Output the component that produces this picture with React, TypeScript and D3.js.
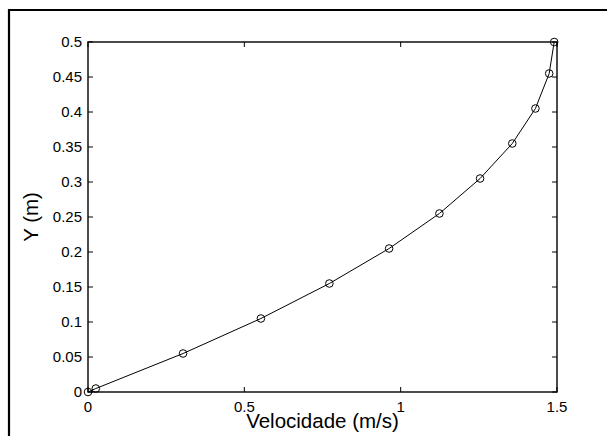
import React from "react";
import * as d3 from "d3";

const velocity = [0, 0.025, 0.304, 0.553, 0.772, 0.963, 1.124, 1.254, 1.357, 1.431, 1.475, 1.491];
const yPos = [0, 0.005, 0.055, 0.105, 0.155, 0.205, 0.255, 0.305, 0.355, 0.405, 0.455, 0.5];
const xTicks = [0, 0.5, 1, 1.5];
const yTicks = [0, 0.05, 0.1, 0.15, 0.2, 0.25, 0.3, 0.35, 0.4, 0.45, 0.5];
const xLabel = "Velocidade (m/s)";
const yLabel = "Y (m)";

export default function App() {
  const W = 607, H = 436;
  const left = 88, right = 557, top = 42, bottom = 392;
  const x = d3.scaleLinear().domain([0, 1.5]).range([left, right]);
  const y = d3.scaleLinear().domain([0, 0.5]).range([bottom, top]);
  const pts = velocity.map((v, i) => [v, yPos[i]] as [number, number]);
  const line = d3.line<[number, number]>().x(d => x(d[0])).y(d => y(d[1]));
  const font = "Liberation Sans, Arial, sans-serif";
  const tl = 5;
  return (
    <svg width={W} height={H} style={{ position: "absolute", left: 0, top: 0, background: "#fff" }}>
      <rect x={0} y={0} width={W} height={H} fill="#fff" />
      <line x1={9} y1={10} x2={W} y2={10} stroke="#000" strokeWidth={2.2} />
      <line x1={9} y1={9} x2={9} y2={H} stroke="#000" strokeWidth={2.2} />
      <rect x={left} y={top} width={right - left} height={bottom - top} fill="none" stroke="#000" strokeWidth={1.4} />
      {yTicks.map(t => (
        <g key={"y" + t}>
          <line x1={left} x2={left + tl} y1={y(t)} y2={y(t)} stroke="#000" strokeWidth={1} />
          <line x1={right} x2={right - tl} y1={y(t)} y2={y(t)} stroke="#000" strokeWidth={1} />
          <text x={82} y={y(t) + 5.3} textAnchor="end" fontFamily={font} fontSize={15}>{String(t)}</text>
        </g>
      ))}
      {xTicks.map(t => (
        <g key={"x" + t}>
          <line x1={x(t)} x2={x(t)} y1={bottom} y2={bottom - tl} stroke="#000" strokeWidth={1} />
          <line x1={x(t)} x2={x(t)} y1={top} y2={top + tl} stroke="#000" strokeWidth={1} />
          <text x={x(t)} y={411.5} textAnchor="middle" fontFamily={font} fontSize={15}>{String(t)}</text>
        </g>
      ))}
      <path d={line(pts) || ""} fill="none" stroke="#000" strokeWidth={1} />
      {pts.map((p, i) => (
        <circle key={i} cx={x(p[0])} cy={y(p[1])} r={3.8} fill="none" stroke="#000" strokeWidth={1} />
      ))}
      <text x={(left + right) / 2} y={428} textAnchor="middle" fontFamily={font} fontSize={20.5}>{xLabel}</text>
      <text transform={`translate(38,${(top + bottom) / 2}) rotate(-90)`} textAnchor="middle" fontFamily={font} fontSize={20.5}>{yLabel}</text>
    </svg>
  );
}
